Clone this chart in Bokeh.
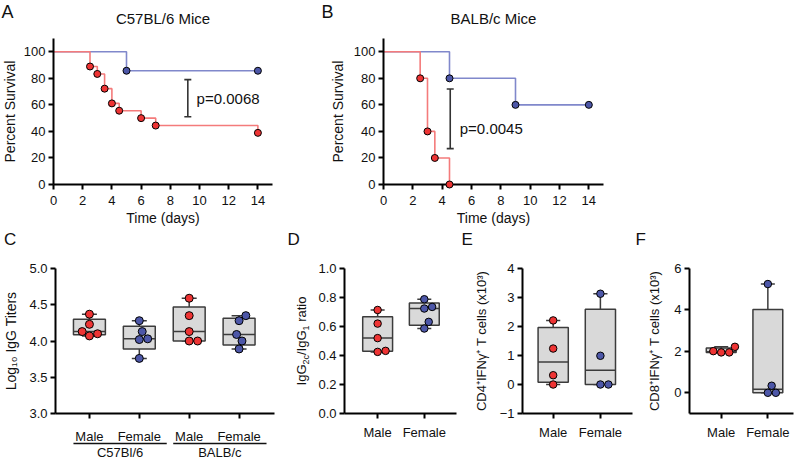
import numpy as np
from bokeh.plotting import figure
from bokeh.layouts import column, row
from bokeh.models import (Range1d, FixedTicker, Whisker, ColumnDataSource,
                          TeeHead, NumeralTickFormatter)
from bokeh.embed import file_html
from bokeh.resources import INLINE
from bokeh.core.properties import value

FONT = "Liberation Sans"
RED = "#EE3434"
RED_LINE = "#F47B7B"
BLUE = "#4D57A8"
BLUE_LINE = "#8088CB"
BOX_FILL = "#D9D9D9"
BOX_LINE = "#3C3C3C"
INK = "#111111"

# ---------------- data ----------------
# Panel A: C57BL/6 survival (red = male, blue = female)
a_red_days = [0, 2.5, 3, 3.5, 4, 4.5, 6, 7, 14]
a_red_surv = [100, 88.9, 83.3, 72.2, 61.1, 55.6, 50.0, 44.4, 38.9]
a_blue_days = [0, 5, 14]
a_blue_surv = [100, 85.7, 85.7]
a_pval = ["p=0.0068"]
a_bar_x, a_bar_lo, a_bar_hi = [9.2], [51], [79]
a_text_x, a_text_y = [9.8], [65]

# Panel B: BALB/c survival
b_red_days = [0, 2.5, 3, 3.5, 4.5]
b_red_surv = [100, 80, 40, 20, 0]
b_blue_days = [0, 4.5, 9, 14]
b_blue_surv = [100, 80, 60, 60]
b_pval = ["p=0.0045"]
b_bar_x, b_bar_lo, b_bar_hi = [4.55], [27], [72]
b_text_x, b_text_y = [5.2], [42]

surv_xticks = [0, 2, 4, 6, 8, 10, 12, 14]
surv_yticks = [0, 20, 40, 60, 80, 100]

# Panel C: log10 IgG titers
c_labels = ["Male", "Female", "Male", "Female"]
c_groups = ["C57Bl/6", "BALB/c"]
c_values = [
    [4.37, 4.23, 4.13, 4.10, 4.07],
    [4.28, 4.13, 4.03, 4.02, 3.76],
    [4.59, 4.35, 4.13, 4.00, 4.00],
    [4.35, 4.28, 4.09, 4.00, 3.89],
]
c_yticks = [3.0, 3.5, 4.0, 4.5, 5.0]

# Panel D: IgG2c/IgG1 ratio
d_labels = ["Male", "Female"]
d_values = [
    [0.714, 0.620, 0.520, 0.425, 0.432],
    [0.788, 0.735, 0.724, 0.632, 0.586],
]
d_yticks = [0.0, 0.2, 0.4, 0.6, 0.8, 1.0]

# Panel E: CD4+ IFNg+ T cells (x10^3)
e_labels = ["Male", "Female"]
e_values = [
    [2.21, 1.24, 0.32, 0.0],
    [3.13, 0.99, 0.0, 0.0],
]
e_yticks = [-1, 0, 1, 2, 3, 4]

# Panel F: CD8+ IFNg+ T cells (x10^3)
f_labels = ["Male", "Female"]
f_values = [
    [2.01, 1.95, 1.95, 2.22],
    [5.25, 0.34, 0.0, 0.0],
]
f_yticks = [0, 2, 4, 6]

# ---------------- geometry (pixels) ----------------
GEOM = {
    "A": dict(w=320, h=228, l=53, r=48, t=38, b=44, xr=(0, 15), yr=(0, 110)),
    "B": dict(w=478, h=228, l=63, r=195, t=38, b=44, xr=(0, 15), yr=(0, 110)),
    "C": dict(w=286, h=231, l=53, r=12, t=40, b=46, xr=(0.32, 4.71), yr=(3, 5)),
    "D": dict(w=174, h=231, l=58, r=4, t=40, b=46, xr=(0.29, 2.69), yr=(0, 1)),
    "E": dict(w=174, h=231, l=62, r=2, t=40, b=46, xr=(0.35, 2.68), yr=(-1, 4)),
    "F": dict(w=164, h=231, l=55, r=5, t=40, b=46, xr=(0.32, 2.55), yr=(-1, 6)),
}


def fsize(g):
    return g["w"] - g["l"] - g["r"], g["h"] - g["t"] - g["b"]


def xd(g, px):
    fw, _ = fsize(g)
    x0, x1 = g["xr"]
    return x0 + px * (x1 - x0) / fw


def yd(g, px):
    _, fh = fsize(g)
    y0, y1 = g["yr"]
    return y0 + px * (y1 - y0) / fh


def make_fig(g, xs1=6, ys2=7):
    p = figure(width=g["w"], height=g["h"],
               x_range=Range1d(*g["xr"]), y_range=Range1d(*g["yr"]),
               min_border_left=g["l"], min_border_right=g["r"],
               min_border_top=g["t"], min_border_bottom=g["b"],
               output_backend="svg", toolbar_location=None, tools="")
    p.outline_line_color = None
    p.grid.visible = False
    p.background_fill_color = "white"
    p.border_fill_color = "white"
    for ax in p.axis:
        ax.axis_line_color = "black"
        ax.axis_line_width = 2
        ax.major_tick_line_color = "black"
        ax.major_tick_line_width = 2
        ax.major_tick_out = 5
        ax.major_tick_in = 0
        ax.minor_tick_line_color = None
        ax.major_label_text_font = FONT
        ax.major_label_text_font_size = "13px"
        ax.major_label_text_color = INK
        ax.major_label_standoff = 3
        ax.axis_label_text_font = FONT
        ax.axis_label_text_font_style = "normal"
        ax.axis_label_text_font_size = "14px"
        ax.axis_label_text_color = INK
        ax.axis_label_standoff = 2
    p.xaxis.major_label_standoff = xs1
    p.yaxis.axis_label_standoff = ys2
    return p


def free_text(p, x, y, txt, size, align="left", baseline="middle", angle=0.0):
    r = p.text(x=[x], y=[y], text=[txt], angle=angle,
               text_align=align, text_baseline=baseline,
               text_font=value(FONT), text_font_size=size, text_color=INK)
    r.level = "overlay"
    return r


def letter(p, g, txt, size="18px"):
    _, fh = fsize(g)
    free_text(p, xd(g, -g["l"] + 1), yd(g, fh + g["t"] - 1), txt, size, "left", "top")


def survival(g, title, let, ylab_px, rd, rs, bd, bs, bx, blo, bhi, ptxt, tx, ty):
    p = make_fig(g, xs1=6, ys2=7)
    p.xaxis.ticker = FixedTicker(ticks=surv_xticks)
    p.yaxis.ticker = FixedTicker(ticks=surv_yticks)
    p.xaxis.axis_label = "Time (days)"
    _, fh = fsize(g)
    free_text(p, xd(g, ylab_px), yd(g, fh / 2), "Percent Survival", "14px",
              "center", "middle", angle=np.pi / 2)
    p.step(bd, bs, mode="after", line_color=BLUE_LINE, line_width=1.6)
    p.step(rd, rs, mode="after", line_color=RED_LINE, line_width=1.6)
    src = ColumnDataSource(dict(x=bx, lo=blo, hi=bhi))
    p.add_layout(Whisker(source=src, base="x", lower="lo", upper="hi", dimension="height",
                         line_color="#333333", line_width=1.6,
                         upper_head=TeeHead(size=7, line_color="#333333", line_width=1.6),
                         lower_head=TeeHead(size=7, line_color="#333333", line_width=1.6)))
    p.text(x=tx, y=ty, text=ptxt, text_baseline="middle", text_align="left",
           text_font=value(FONT), text_font_size="15px", text_color=INK)
    r1 = p.scatter(bd[1:], bs[1:], size=7, fill_color=BLUE, line_color="black", line_width=1)
    r2 = p.scatter(rd[1:], rs[1:], size=7, fill_color=RED, line_color="black", line_width=1)
    r1.level = "overlay"
    r2.level = "overlay"
    free_text(p, sum(g["xr"]) / 2, yd(g, fh + 20), title, "15px", "center", "middle")
    letter(p, g, let, "18px")
    return p


def swarm(vals, ypx, d):
    vals = np.asarray(vals, float)
    order = np.argsort(vals, kind="stable")
    placed = []
    offs = np.zeros(len(vals))
    for i in order:
        y = vals[i] * ypx
        cands = [0.0]
        for xo, yo in placed:
            dy = abs(y - yo)
            if dy < d:
                dx = np.sqrt(d * d - dy * dy)
                cands += [xo + dx, xo - dx]
        ok = [c for c in cands
              if all((c - xo) ** 2 + (y - yo) ** 2 >= d * d - 1e-6 for xo, yo in placed)]
        best = min(ok, key=lambda c: (round(abs(c), 6), -c))
        offs[i] = best
        placed.append((best, y))
    return offs


def boxes(p, g, groups, colors, msize):
    fw, fh = fsize(g)
    xpx = fw / (g["xr"][1] - g["xr"][0])
    ypx = fh / (g["yr"][1] - g["yr"][0])
    cats = np.arange(1, len(groups) + 1, dtype=float)
    q1, med, q3, lo, hi = [], [], [], [], []
    for v in groups:
        a, m, b = np.percentile(v, [25, 50, 75], method="weibull")
        q1.append(a); med.append(m); q3.append(b); lo.append(min(v)); hi.append(max(v))
    bw, cw = 0.64, 0.30
    kw = dict(line_color=BOX_LINE, line_width=1.5)
    p.segment(x0=cats, y0=q3, x1=cats, y1=hi, **kw)
    p.segment(x0=cats, y0=q1, x1=cats, y1=lo, **kw)
    p.segment(x0=cats - cw / 2, y0=hi, x1=cats + cw / 2, y1=hi, **kw)
    p.segment(x0=cats - cw / 2, y0=lo, x1=cats + cw / 2, y1=lo, **kw)
    p.vbar(x=cats, bottom=q1, top=q3, width=bw, fill_color=BOX_FILL, **kw)
    p.segment(x0=cats - bw / 2, y0=med, x1=cats + bw / 2, y1=med, **kw)
    for c, v, col in zip(cats, groups, colors):
        offs = swarm(v, ypx, msize + 0.5)
        r = p.scatter(c + offs / xpx, v, size=msize, fill_color=col, line_color="black",
                      line_width=1)
        r.level = "overlay"


def cat_axis(p, labels):
    p.xaxis.ticker = FixedTicker(ticks=list(range(1, len(labels) + 1)))
    p.xaxis.major_label_overrides = {i + 1: s for i, s in enumerate(labels)}


# ---------------- panels A, B ----------------
pA = survival(GEOM["A"], "C57BL/6 Mice", "A", -44, a_red_days, a_red_surv, a_blue_days,
              a_blue_surv, a_bar_x, a_bar_lo, a_bar_hi, a_pval, a_text_x, a_text_y)
pB = survival(GEOM["B"], "BALB/c Mice", "B", -46, b_red_days, b_red_surv, b_blue_days,
              b_blue_surv, b_bar_x, b_bar_lo, b_bar_hi, b_pval, b_text_x, b_text_y)

# ---------------- panel C ----------------
gC = GEOM["C"]
pC = make_fig(gC, xs1=10, ys2=7)
pC.yaxis.ticker = FixedTicker(ticks=c_yticks)
pC.yaxis.formatter = NumeralTickFormatter(format="0.0")
pC.yaxis.axis_label = "Log\u2081\u2080 IgG Titers"
cat_axis(pC, c_labels)
boxes(pC, gC, c_values, [RED, BLUE, RED, BLUE], 8)
for k, grp in enumerate(c_groups):
    first, last = 2 * k + 1, 2 * k + 2
    yl = yd(gC, -30)
    rl = pC.segment(x0=[first - 0.32], y0=[yl], x1=[last + 0.55], y1=[yl],
                    line_color=INK, line_width=1.3)
    rl.level = "overlay"
    free_text(pC, (first + last) / 2 + 0.115, yd(gC, -39), grp, "13px", "center", "middle")
letter(pC, gC, "C", "17px")

# ---------------- panel D ----------------
gD = GEOM["D"]
pD = make_fig(gD)
pD.yaxis.ticker = FixedTicker(ticks=d_yticks)
pD.yaxis.formatter = NumeralTickFormatter(format="0.0")
cat_axis(pD, d_labels)
boxes(pD, gD, d_values, [RED, BLUE], 7.5)
AW = {'I': .278, 'g': .556, 'G': .778, '2': .556, 'c': .5, '/': .278, '1': .556, ' ': .278,
      'r': .333, 'a': .556, 't': .278, 'i': .222, 'o': .556}
# (text, font px, drop px, gap before in em of 13px)
d_parts = [("IgG", 13, 0, 0), ("2c", 9, 4, 0), ("/IgG", 13, 0, 0), ("1", 9, 4, 0),
           ("ratio", 13, 0, 0.278)]
_, fhD = fsize(gD)
widths = [sum(AW[ch] for ch in t) * s for t, s, _, _ in d_parts]
total = sum(widths) + sum(gap * 13 for *_, gap in d_parts)
cum = fhD / 2 - total / 2
for (t, s, drop, gap), wdt in zip(d_parts, widths):
    cum += gap * 13
    free_text(pD, xd(gD, -43 + drop), yd(gD, cum + wdt / 2), t, f"{s}px", "center",
              "middle", angle=np.pi / 2)
    cum += wdt
letter(pD, gD, "D", "17px")

# ---------------- panel E ----------------
gE = GEOM["E"]
pE = make_fig(gE, ys2=8)
pE.yaxis.ticker = FixedTicker(ticks=e_yticks)
pE.yaxis.axis_label = "CD4\u207aIFN\u03b3\u207a T cells (x10\u00b3)"
pE.yaxis.axis_label_text_font_size = "13px"
cat_axis(pE, e_labels)
boxes(pE, gE, e_values, [RED, BLUE], 7.5)
letter(pE, gE, "E", "17px")

# ---------------- panel F ----------------
gF = GEOM["F"]
pF = make_fig(gF, ys2=9)
pF.yaxis.ticker = FixedTicker(ticks=f_yticks)
pF.yaxis.axis_label = "CD8\u207aIFN\u03b3\u207a T cells (x10\u00b3)"
pF.yaxis.axis_label_text_font_size = "13px"
cat_axis(pF, f_labels)
boxes(pF, gF, f_values, [RED, BLUE], 7.5)
letter(pF, gF, "F", "17px")

layout = column(row(pA, pB, spacing=0), row(pC, pD, pE, pF, spacing=0), spacing=0)

with open("out.html", "w") as fh:
    fh.write(file_html(layout, INLINE))
